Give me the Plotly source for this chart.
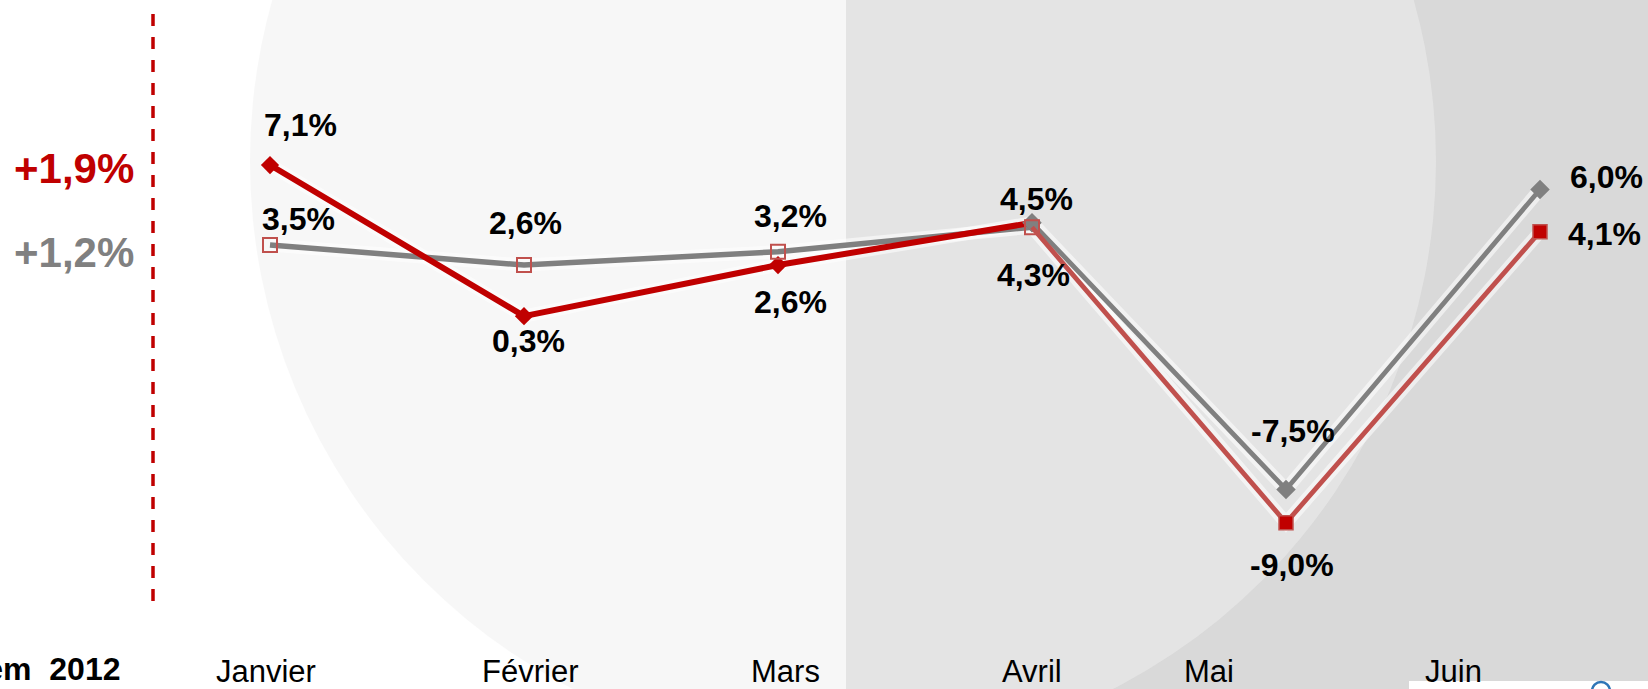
import plotly.graph_objects as go

# ---------------- data ----------------
months = ["Janvier", "Février", "Mars", "Avril", "Mai", "Juin"]
x_idx = [0, 1, 2, 3, 4, 5]

# series A : Jan-Apr dark red diamonds, Apr-Jun grey diamonds
serie_a = [7.1, 0.3, 2.6, 4.5, -7.5, 6.0]
# series B : Jan-Apr grey line / hollow squares, Apr-Jun light red squares
serie_b = [3.5, 2.6, 3.2, 4.3, -9.0, 4.1]

labels_a = ["7,1%", "0,3%", "2,6%", "4,5%", "-7,5%", "6,0%"]
labels_b = ["3,5%", "2,6%", "3,2%", "4,3%", "-9,0%", "4,1%"]

summary_a = "+1,9%"
summary_b = "+1,2%"
period_label = "1er Sem  2012"

# month label positions (in category units, as placed on the slide)
month_label_pos = [-0.016, 1.024, 2.031, 3.0, 3.697, 4.661]

# label offsets in pixels (dx right, dy up)
off_a = [(30, 40), (4, -25), (12, -37), (4, 24), (7, 58), (66, 12)]
off_b = [(28, 26), (1, 42), (12, 36), (1, -48), (6, -42), (64, -2)]

# ---------------- styles ----------------
W, H = 1648, 689
DARK_RED = "#c00000"
LIGHT_RED = "#c0504d"
GREY = "#808080"
FONT = "Liberation Sans"

def px(x):
    return x / W

def py(y):
    return 1 - y / H

fig = go.Figure()

split = 3  # Avril: where the formatting changes
xa1, ya1 = x_idx[:split + 1], serie_a[:split + 1]
xa2, ya2 = x_idx[split:], serie_a[split:]
xb1, yb1 = x_idx[:split + 1], serie_b[:split + 1]
xb2, yb2 = x_idx[split:], serie_b[split:]

# soft white glow under the lines
for xs, ys in [(xb1, yb1), (xa1, ya1), (xa2, ya2), (xb2, yb2)]:
    fig.add_trace(go.Scatter(x=xs, y=ys, mode="lines",
                             line=dict(color="rgba(255,255,255,0.55)", width=13),
                             hoverinfo="skip", showlegend=False))

# series B first part: grey line
fig.add_trace(go.Scatter(x=xb1, y=yb1, mode="lines",
                         line=dict(color=GREY, width=5.5),
                         hoverinfo="skip", showlegend=False))
# series A first part: dark red line with diamonds
fig.add_trace(go.Scatter(x=xa1, y=ya1, mode="lines+markers",
                         line=dict(color=DARK_RED, width=6),
                         marker=dict(symbol="diamond", size=14, color=DARK_RED),
                         hoverinfo="skip", showlegend=False))
# series A second part: grey line with diamonds
fig.add_trace(go.Scatter(x=xa2, y=ya2, mode="lines+markers",
                         line=dict(color=GREY, width=4.8),
                         marker=dict(symbol="diamond", size=15, color=GREY),
                         hoverinfo="skip", showlegend=False))
# series B second part: light red line
fig.add_trace(go.Scatter(x=xb2, y=yb2, mode="lines",
                         line=dict(color=LIGHT_RED, width=4.8),
                         hoverinfo="skip", showlegend=False))
# series B second part markers (Mai, Juin): filled red squares
fig.add_trace(go.Scatter(x=xb2[1:], y=yb2[1:], mode="markers",
                         marker=dict(symbol="square", size=14, color=DARK_RED,
                                     line=dict(color=LIGHT_RED, width=1.5)),
                         hoverinfo="skip", showlegend=False))
# series B first part markers: hollow squares
fig.add_trace(go.Scatter(x=xb1, y=yb1, mode="markers",
                         marker=dict(symbol="square-open", size=14, color=LIGHT_RED,
                                     line=dict(color=LIGHT_RED, width=2)),
                         hoverinfo="skip", showlegend=False))

annotations = []
for xs, ys, labs, offs in [(x_idx, serie_a, labels_a, off_a),
                           (x_idx, serie_b, labels_b, off_b)]:
    for xv, yv, lab, (dx, dy) in zip(xs, ys, labs, offs):
        annotations.append(dict(x=xv, y=yv, xref="x", yref="y", text=lab,
                                showarrow=False, xanchor="center", yanchor="middle",
                                xshift=dx, yshift=dy,
                                font=dict(family=FONT, size=32, color="black",
                                          weight="bold")))

for pos, m in zip(month_label_pos, months):
    annotations.append(dict(x=pos, y=py(671), xref="x", yref="paper", text=m,
                            showarrow=False, xanchor="center", yanchor="middle",
                            font=dict(family=FONT, size=31, color="black")))

annotations.append(dict(x=px(136), y=py(168), xref="paper", yref="paper",
                        text=summary_a, showarrow=False, xanchor="right",
                        yanchor="middle",
                        font=dict(family=FONT, size=42, color=DARK_RED, weight="bold")))
annotations.append(dict(x=px(136), y=py(253), xref="paper", yref="paper",
                        text=summary_b, showarrow=False, xanchor="right",
                        yanchor="middle",
                        font=dict(family=FONT, size=42, color=GREY, weight="bold")))
annotations.append(dict(x=px(123), y=py(669), xref="paper", yref="paper",
                        text=period_label, showarrow=False, xanchor="right",
                        yanchor="middle",
                        font=dict(family=FONT, size=32, color="black", weight="bold")))

cx, cy, r = 843, 161, 593
shapes = [
    # grey panel on the right
    dict(type="rect", xref="paper", yref="paper", x0=px(846), x1=1.0, y0=0, y1=1,
         fillcolor="#d9d9d9", line=dict(width=0), layer="below"),
    # large translucent disc
    dict(type="circle", xref="paper", yref="paper",
         x0=px(cx - r), x1=px(cx + r), y0=py(cy + r), y1=py(cy - r),
         fillcolor="rgba(239,239,239,0.5)", line=dict(width=0), layer="below"),
    # white strip bottom right
    dict(type="rect", xref="paper", yref="paper", x0=px(1409), x1=1.0,
         y0=0, y1=py(681), fillcolor="white", line=dict(width=0), layer="below"),
    # dashed separator
    dict(type="line", xref="paper", yref="paper", x0=px(153), x1=px(153),
         y0=py(14), y1=py(609), line=dict(color=DARK_RED, width=3.5, dash="12px,11px")),
    # tiny blue icon fragment
    dict(type="circle", xref="paper", yref="paper", x0=px(1592), x1=px(1610),
         y0=py(700), y1=py(682), line=dict(color="#2e75b6", width=2.5), layer="above"),
]

fig.update_layout(
    width=W, height=H,
    margin=dict(l=0, r=0, t=0, b=0),
    paper_bgcolor="white",
    plot_bgcolor="rgba(0,0,0,0)",
    showlegend=False,
    xaxis=dict(range=[(0 - 270) / 254, (W - 270) / 254], visible=False,
               showgrid=False, zeroline=False, fixedrange=True),
    yaxis=dict(range=[(322.8 - H) / 22.22, 322.8 / 22.22], visible=False,
               showgrid=False, zeroline=False, fixedrange=True),
    annotations=annotations,
    shapes=shapes,
)

fig.write_html(
    "out.html",
    config={"displayModeBar": False},
    post_script="document.body.style.margin='0';document.body.style.overflow='hidden';",
)
